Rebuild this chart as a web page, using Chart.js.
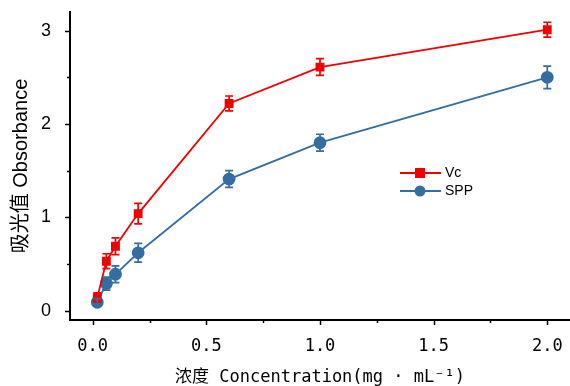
<!DOCTYPE html>
<html>
<head>
<meta charset="utf-8">
<script src="https://cdn.jsdelivr.net/npm/chart.js@4.4.1/dist/chart.umd.min.js"></script>
<style>
    html, body { margin: 0; padding: 0; background: #fff; }
    #wrap { width: 570px; height: 386px; position: relative; }
</style>
</head>
<body>
<div id="wrap"><canvas id="chart"></canvas></div>
<script>
// data
const concentrations = [0.02, 0.06, 0.1, 0.2, 0.6, 1.0, 2.0];
const vcValues = [0.14, 0.53, 0.69, 1.04, 2.22, 2.61, 3.01];
const vcErrors = [0.05, 0.08, 0.09, 0.11, 0.08, 0.09, 0.08];
const sppValues = [0.09, 0.29, 0.39, 0.62, 1.41, 1.80, 2.50];
const sppErrors = [0.04, 0.07, 0.09, 0.10, 0.09, 0.09, 0.12];
const xTickValues = [0, 0.25, 0.5, 0.75, 1.0, 1.25, 1.5, 1.75, 2.0];
const yTickValues = [0, 0.5, 1, 1.5, 2, 2.5, 3];

const RED = '#f00000';
const BLUE = '#336ea3';

function toPoints(xs, ys) {
    return xs.map((x, i) => ({ x: x, y: ys[i] }));
}

// error bars drawn through the scales
const errorBars = {
    id: 'errorBars',
    afterDatasetsDraw(chart) {
        const ctx = chart.ctx;
        const xs = chart.scales.x, ys = chart.scales.y;
        chart.data.datasets.forEach(ds => {
            ctx.save();
            ctx.strokeStyle = ds.borderColor;
            ctx.lineWidth = 1.7;
            ds.data.forEach((p, j) => {
                const x = xs.getPixelForValue(p.x);
                const lo = ys.getPixelForValue(p.y - ds.errors[j]);
                const hi = ys.getPixelForValue(p.y + ds.errors[j]);
                ctx.beginPath();
                ctx.moveTo(x, lo); ctx.lineTo(x, hi);
                ctx.moveTo(x - 4, lo); ctx.lineTo(x + 4, lo);
                ctx.moveTo(x - 4, hi); ctx.lineTo(x + 4, hi);
                ctx.stroke();
            });
            ctx.restore();
        });
    }
};

// outward tick marks, minor ones shorter
const tickMarks = {
    id: 'tickMarks',
    afterDraw(chart) {
        const ctx = chart.ctx;
        const xs = chart.scales.x, ys = chart.scales.y;
        ctx.save();
        ctx.strokeStyle = '#000';
        ctx.lineWidth = 1.5;
        ctx.beginPath();
        xs.ticks.forEach(t => {
            const px = Math.round(xs.getPixelForValue(t.value)) + 0.5;
            const len = Math.abs(t.value * 2 - Math.round(t.value * 2)) < 1e-6 ? 5 : 3;
            ctx.moveTo(px, xs.top);
            ctx.lineTo(px, xs.top + len);
        });
        ys.ticks.forEach(t => {
            const py = Math.round(ys.getPixelForValue(t.value)) + 0.5;
            const len = Number.isInteger(t.value) ? 5 : 3;
            ctx.moveTo(ys.right, py);
            ctx.lineTo(ys.right - len, py);
        });
        ctx.stroke();
        ctx.restore();
    }
};

// legend with line + marker, placed inside the plot
const insideLegend = {
    id: 'insideLegend',
    afterDraw(chart) {
        const ctx = chart.ctx;
        const items = chart.data.datasets;
        ctx.save();
        items.forEach((ds, i) => {
            const y = 173 + i * 18;
            ctx.strokeStyle = ds.borderColor;
            ctx.fillStyle = ds.borderColor;
            ctx.lineWidth = 1.8;
            ctx.beginPath();
            ctx.moveTo(400, y);
            ctx.lineTo(441, y);
            ctx.stroke();
            ctx.beginPath();
            if (ds.pointStyle === 'rect') {
                ctx.rect(415, y - 5, 10, 10);
            } else {
                ctx.arc(420, y, 5.5, 0, Math.PI * 2);
            }
            ctx.fill();
            ctx.fillStyle = '#000';
            ctx.font = '14px "Liberation Sans", Arial, sans-serif';
            ctx.textBaseline = 'middle';
            ctx.fillText(ds.label, 445, y);
        });
        ctx.restore();
    }
};

const monoFont = '"DejaVu Sans Mono", "Noto Sans CJK SC", monospace';
const sansFont = '"Liberation Sans", "Noto Sans CJK SC", sans-serif';

new Chart(document.getElementById('chart'), {
    type: 'line',
    data: {
        datasets: [
            {
                label: 'Vc',
                data: toPoints(concentrations, vcValues),
                errors: vcErrors,
                borderColor: RED,
                backgroundColor: RED,
                borderWidth: 1.8,
                pointStyle: 'rect',
                pointRadius: 5,
                pointHoverRadius: 5,
                tension: 0
            },
            {
                label: 'SPP',
                data: toPoints(concentrations, sppValues),
                errors: sppErrors,
                borderColor: BLUE,
                backgroundColor: BLUE,
                borderWidth: 1.8,
                pointStyle: 'circle',
                pointRadius: 5.5,
                pointHoverRadius: 5.5,
                tension: 0
            }
        ]
    },
    options: {
        responsive: true,
        maintainAspectRatio: false,
        animation: false,
        events: [],
        layout: { autoPadding: false, padding: { top: 12, right: 0, left: 0, bottom: 0 } },
        plugins: {
            legend: { display: false },
            tooltip: { enabled: false }
        },
        scales: {
            x: {
                type: 'linear',
                min: -0.1,
                max: 2.1,
                afterBuildTicks: s => { s.ticks = xTickValues.map(v => ({ value: v })); },
                afterFit: s => {
                    s.height = 66;
                    s.paddingLeft = 0;
                    s.paddingRight = 0;
                },
                grid: { display: false },
                border: { display: true, color: '#000', width: 2 },
                ticks: {
                    color: '#000',
                    padding: 8,
                    maxRotation: 0,
                    autoSkip: false,
                    font: { family: monoFont, size: 17 },
                    callback: v => (Math.abs(v * 2 - Math.round(v * 2)) < 1e-6 ? v.toFixed(1) : '')
                },
                title: {
                    display: true,
                    text: '浓度 Concentration(mg · mL⁻¹)',
                    color: '#000',
                    padding: { top: 0, bottom: 0 },
                    font: { family: monoFont, size: 17, lineHeight: 1 }
                }
            },
            y: {
                type: 'linear',
                min: -0.1,
                max: 3.2,
                afterBuildTicks: s => { s.ticks = yTickValues.map(v => ({ value: v })); },
                afterFit: s => {
                    s.width = 70;
                    s.paddingTop = 0;
                    s.paddingBottom = 0;
                },
                grid: { display: false },
                border: { display: true, color: '#000', width: 2 },
                ticks: {
                    color: '#000',
                    padding: 11,
                    autoSkip: false,
                    font: { family: sansFont, size: 18 },
                    callback: v => (Number.isInteger(v) ? String(v) : '')
                },
                title: {
                    display: true,
                    text: '吸光值 Obsorbance',
                    color: '#000',
                    padding: { top: 9, bottom: 0 },
                    font: { family: sansFont, size: 20, lineHeight: 1.2 }
                }
            }
        }
    },
    plugins: [errorBars, tickMarks, insideLegend]
});
</script>
</body>
</html>
